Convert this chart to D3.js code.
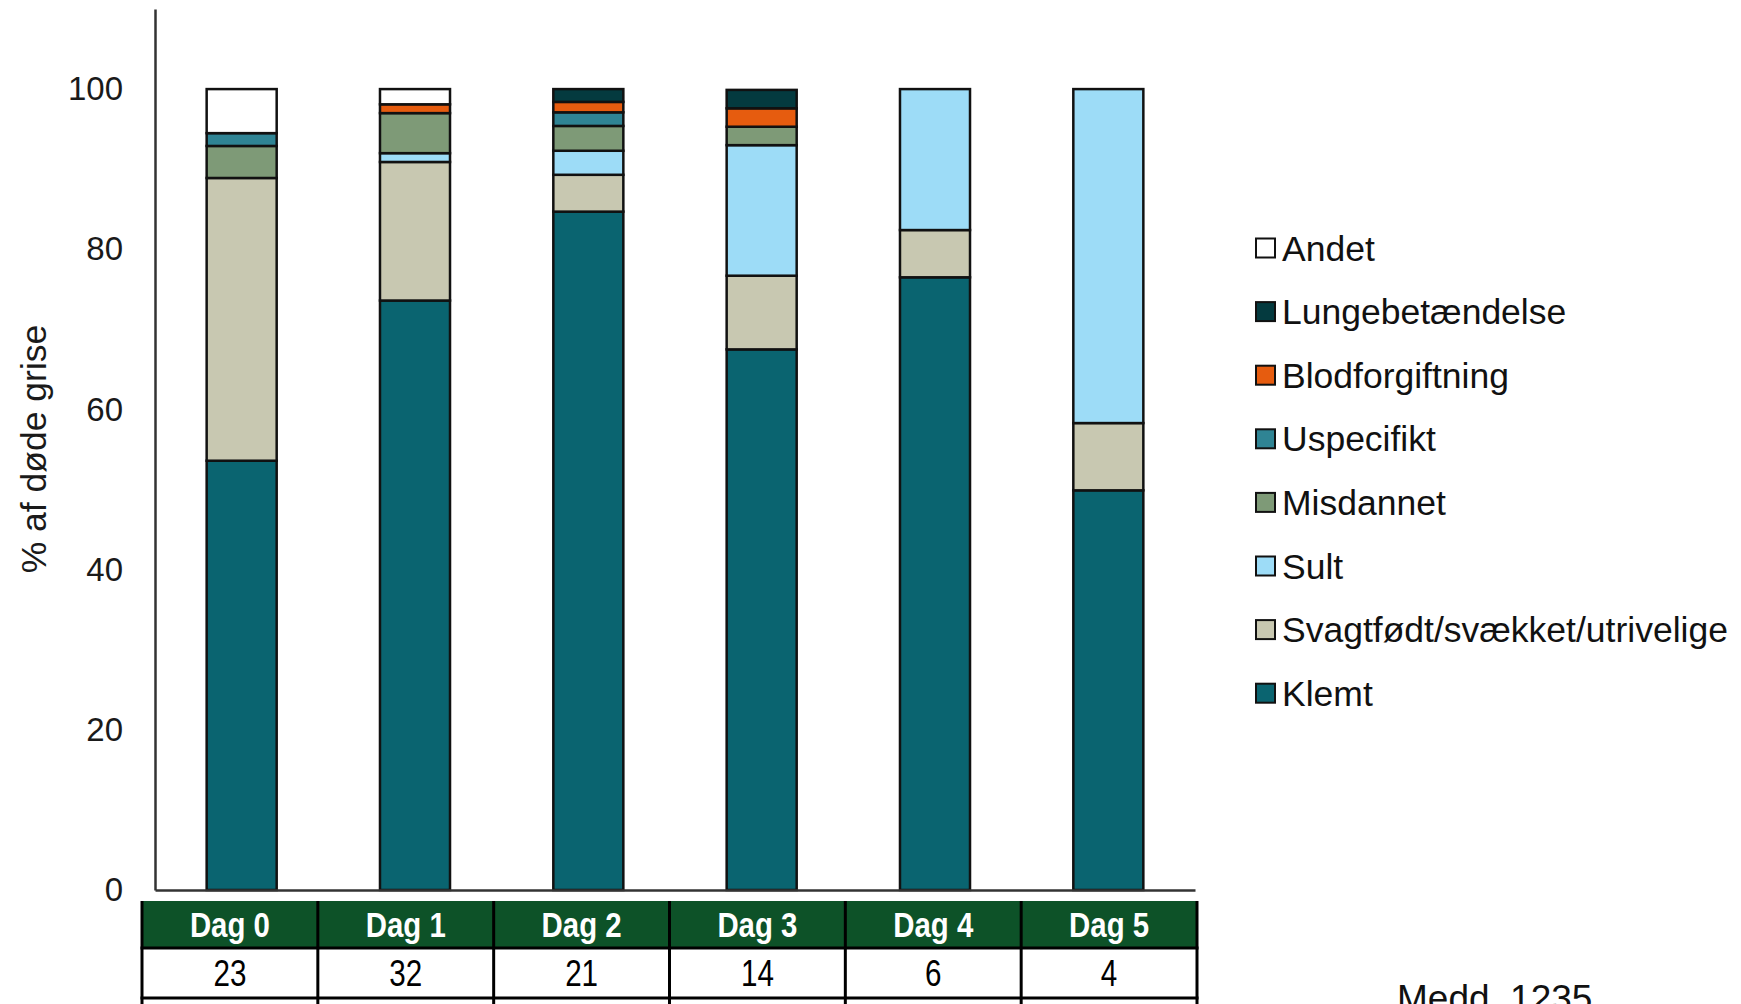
<!DOCTYPE html>
<html>
<head>
<meta charset="utf-8">
<script src="https://cdn.jsdelivr.net/npm/d3@7"></script>
<style>
  html, body { margin: 0; padding: 0; background: #ffffff; }
  svg { display: block; }
</style>
</head>
<body>
<svg id="chart" width="1741" height="1004"></svg>
<script>
// ---- data ----
const categories = ["Dag 0", "Dag 1", "Dag 2", "Dag 3", "Dag 4", "Dag 5"];
const counts = ["23", "32", "21", "14", "6", "4"];
const seriesNames = ["Klemt", "Svagtfødt/svækket/utrivelige", "Sult", "Misdannet", "Uspecifikt", "Blodforgiftning", "Lungebetændelse", "Andet"];
const klemt      = [53.6, 73.6, 84.7, 67.5, 76.5, 49.9];
const svagtfoedt = [35.3, 17.3, 4.6, 9.2, 5.9, 8.4];
const sult       = [0, 1.1, 3.0, 16.3, 17.6, 41.7];
const misdannet  = [4.0, 5.0, 3.1, 2.3, 0, 0];
const uspecifikt = [1.6, 0, 1.7, 0, 0, 0];
const blodforgiftning = [0, 1.1, 1.3, 2.3, 0, 0];
const lungebetaendelse = [0, 0, 1.6, 2.3, 0, 0];
const andet      = [5.5, 1.9, 0, 0, 0, 0];
const yTicks = [0, 20, 40, 60, 80, 100];
const yTitle = "% af døde grise";
const footnote = "Medd. 1235";

const seriesValues = [klemt, svagtfoedt, sult, misdannet, uspecifikt, blodforgiftning, lungebetaendelse, andet];
const colors = ["#0a6470", "#c8c8b1", "#9ddcf7", "#7e9a77", "#2f8494", "#e65c0f", "#043a3f", "#ffffff"];

// ---- layout ----
const svg = d3.select("#chart");
const FONT = "'Liberation Sans', Arial, sans-serif";

const x = d3.scaleBand().domain(categories).range([155, 1195]).paddingInner(0.596).paddingOuter(0.298);
const y = d3.scaleLinear().domain([0, 110]).range([890, 9]);

const table = categories.map((c, i) => {
  const row = { cat: c };
  seriesNames.forEach((s, k) => row[s] = seriesValues[k][i]);
  return row;
});
const stacked = d3.stack().keys(seriesNames)(table);
const color = d3.scaleOrdinal().domain(seriesNames).range(colors);

// bars
svg.append("g").selectAll("g").data(stacked).join("g")
  .attr("fill", d => color(d.key))
  .selectAll("rect").data(d => d.filter(p => p[1] - p[0] > 0)).join("rect")
  .attr("x", d => x(d.data.cat))
  .attr("width", x.bandwidth())
  .attr("y", d => y(d[1]))
  .attr("height", d => y(d[0]) - y(d[1]))
  .attr("stroke", "#111")
  .attr("stroke-width", 2.5);

// y axis
const yAxis = svg.append("g").attr("transform", "translate(155,0)")
  .call(d3.axisLeft(y).tickValues(yTicks).tickSize(0).tickPadding(32).tickSizeOuter(0));
yAxis.select(".domain").attr("stroke", "#333").attr("stroke-width", 2.5);
yAxis.selectAll("text").attr("font-family", FONT).attr("font-size", 33).attr("fill", "#1a1a1a");

// x axis line
const xAxis = svg.append("g").attr("transform", "translate(0,890)")
  .call(d3.axisBottom(x).tickSize(0).tickFormat("").tickSizeOuter(0));
xAxis.select(".domain").attr("stroke", "#333").attr("stroke-width", 2.5);

// y title
svg.append("text")
  .attr("transform", "translate(46,449) rotate(-90)")
  .attr("text-anchor", "middle")
  .attr("font-family", FONT)
  .attr("font-size", 35.5)
  .attr("fill", "#1a1a1a")
  .text(yTitle);

// table under the axis
const tx = d3.scaleBand().domain(categories).range([142, 1197]);
const tg = svg.append("g");
tg.selectAll("rect.hdr").data(categories).join("rect")
  .attr("class", "hdr")
  .attr("x", d => tx(d)).attr("width", tx.bandwidth())
  .attr("y", 901).attr("height", 47)
  .attr("fill", "#0d5228");
tg.selectAll("rect.val").data(categories).join("rect")
  .attr("class", "val")
  .attr("x", d => tx(d)).attr("width", tx.bandwidth())
  .attr("y", 948).attr("height", 50)
  .attr("fill", "#ffffff");
tg.selectAll("line.v").data(categories.concat(["end"])).join("line")
  .attr("class", "v")
  .attr("x1", (d, i) => i < categories.length ? tx(d) : tx.range()[1])
  .attr("x2", (d, i) => i < categories.length ? tx(d) : tx.range()[1])
  .attr("y1", 901).attr("y2", 1004)
  .attr("stroke", "#000").attr("stroke-width", 3);
[948, 998].forEach(yy => {
  tg.append("line").attr("x1", 140.5).attr("x2", 1198.5).attr("y1", yy).attr("y2", yy)
    .attr("stroke", "#000").attr("stroke-width", 3);
});
tg.selectAll("text.hdr").data(categories).join("text")
  .attr("class", "hdr")
  .attr("transform", d => `translate(${tx(d) + tx.bandwidth() / 2},937) scale(0.84,1)`)
  .attr("text-anchor", "middle")
  .attr("font-family", FONT)
  .attr("font-weight", "bold")
  .attr("font-size", 35)
  .attr("fill", "#ffffff")
  .text(d => d);
tg.selectAll("text.val").data(counts).join("text")
  .attr("class", "val")
  .attr("transform", (d, i) => `translate(${tx(categories[i]) + tx.bandwidth() / 2},986) scale(0.8,1)`)
  .attr("text-anchor", "middle")
  .attr("font-family", FONT)
  .attr("font-size", 37)
  .attr("fill", "#000")
  .text(d => d);

// legend (reverse order: Andet on top)
const legendOrder = seriesNames.slice().reverse();
const lg = svg.append("g").selectAll("g").data(legendOrder).join("g")
  .attr("transform", (d, i) => `translate(1256,${248 + i * 63.6})`);
lg.append("rect")
  .attr("x", 0).attr("y", -9.5).attr("width", 19).attr("height", 19)
  .attr("fill", d => color(d)).attr("stroke", "#111").attr("stroke-width", 2);
lg.append("text")
  .attr("x", 26).attr("y", 12.5)
  .attr("font-family", FONT).attr("font-size", 35.5).attr("fill", "#111")
  .text(d => d);

// footnote (cut off at the bottom as in the reference)
svg.append("text")
  .attr("x", 1397).attr("y", 1011)
  .attr("font-family", FONT).attr("font-size", 37).attr("fill", "#111")
  .text(footnote);
</script>
</body>
</html>
